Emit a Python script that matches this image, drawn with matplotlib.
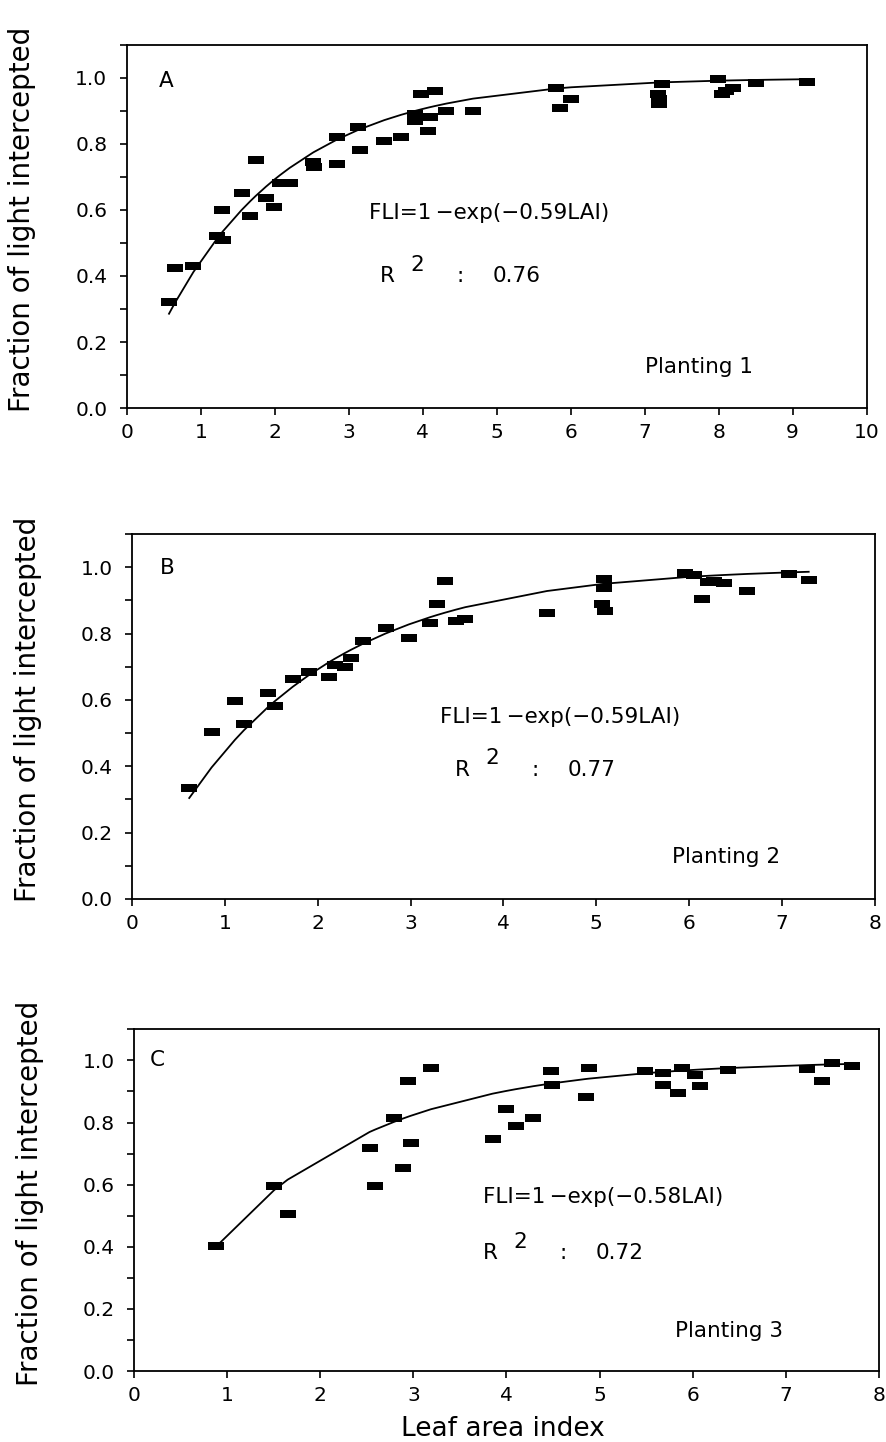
import numpy as np
import matplotlib
matplotlib.use("Agg")
import matplotlib.pyplot as plt
from matplotlib.path import Path
from matplotlib.ticker import MultipleLocator, FormatStrFormatter

# Planting 1
lai_a = [0.57, 0.65, 0.90, 1.22, 1.30, 1.29, 1.55, 1.67, 1.74, 1.88, 1.99, 2.07, 2.20,
         2.51, 2.53, 2.84, 2.84, 3.12, 3.15, 3.48, 3.71, 3.89, 3.89, 3.98, 4.10, 4.07,
         4.16, 4.32, 4.68, 5.80, 5.85, 6.01, 7.24, 7.18, 7.20, 7.20, 7.99, 8.04, 8.10,
         8.19, 8.51, 9.20]
fli_a = [0.32, 0.425, 0.43, 0.52, 0.51, 0.60, 0.65, 0.58, 0.75, 0.635, 0.61, 0.68, 0.68,
         0.745, 0.73, 0.74, 0.82, 0.85, 0.78, 0.81, 0.82, 0.89, 0.87, 0.95, 0.88, 0.84,
         0.96, 0.90, 0.90, 0.97, 0.907, 0.935, 0.98, 0.95, 0.935, 0.92, 0.995, 0.95, 0.96,
         0.97, 0.985, 0.988]

# Planting 2
lai_b = [0.615, 0.856, 1.108, 1.205, 1.46, 1.54, 1.73, 1.906, 2.12, 2.19, 2.29, 2.36,
         2.49, 2.73, 2.98, 3.21, 3.28, 3.37, 3.49, 3.59, 4.47, 5.08, 5.08, 5.06, 5.10,
         5.96, 6.05, 6.14, 6.20, 6.27, 6.375, 6.63, 7.08, 7.29]
fli_b = [0.336, 0.503, 0.598, 0.526, 0.622, 0.582, 0.663, 0.685, 0.668, 0.705, 0.698, 0.726,
         0.778, 0.816, 0.786, 0.832, 0.89, 0.96, 0.838, 0.845, 0.862, 0.964, 0.939, 0.889,
         0.869, 0.984, 0.978, 0.904, 0.957, 0.96, 0.952, 0.929, 0.981, 0.961]

# Planting 3
lai_c = [0.885, 1.505, 1.65, 2.53, 2.59, 2.79, 2.89, 2.94, 2.97, 3.19, 3.85, 3.99, 4.10,
         4.29, 4.48, 4.49, 4.85, 4.89, 5.485, 5.68, 5.68, 5.84, 5.88, 6.02, 6.08, 6.38,
         7.23, 7.39, 7.50, 7.71]
fli_c = [0.403, 0.595, 0.504, 0.717, 0.595, 0.813, 0.655, 0.932, 0.733, 0.976, 0.746, 0.845,
         0.788, 0.815, 0.965, 0.92, 0.881, 0.975, 0.965, 0.96, 0.922, 0.895, 0.975, 0.954,
         0.917, 0.97, 0.973, 0.933, 0.991, 0.981]

panel_letters = ["A", "B", "C"]
extinction = [0.59, 0.59, 0.58]
r_squared = ["0.76", "0.77", "0.72"]
x_max = [10, 8, 8]

# filled bar-shaped marker, wider than tall
bar_marker = Path([(-1, -0.5), (1, -0.5), (1, 0.5), (-1, 0.5), (-1, -0.5)],
                  [Path.MOVETO, Path.LINETO, Path.LINETO, Path.LINETO, Path.CLOSEPOLY])

plt.rcParams["font.family"] = "DejaVu Sans"

W, H = 887, 1442
fig = plt.figure(figsize=(W / 100, H / 100), dpi=100)
rects = [
    [0.143, 0.717, 0.834, 0.252],
    [0.149, 0.3766, 0.837, 0.253],
    [0.151, 0.0492, 0.840, 0.237],
]
# right edge of each rotated y label, in figure pixels
ylabel_px = [36, 42, 44]

# text placement per panel, in data units
letter_pos = [(0.43, 0.99), (0.30, 0.998), (0.17, 1.0)]
eq_pos = [(3.28, 0.59), (3.32, 0.548), (3.75, 0.56)]
r2_pos = [(3.42, 0.40), (3.48, 0.39), (3.75, 0.38)]
plant_pos = [(7.0, 0.125), (5.82, 0.127), (5.81, 0.13)]

data = [(lai_a, fli_a), (lai_b, fli_b), (lai_c, fli_c)]
txt = 15.5

for i, (lai, fli) in enumerate(data):
    ax = fig.add_axes(rects[i])
    lai = np.array(lai)
    fli = np.array(fli)

    ax.plot(lai, fli, linestyle="none", marker=bar_marker, markersize=12,
            color="black", markeredgewidth=0)

    # fitted curve FLI = 1 - exp(-k LAI) through the observed LAI values
    xs = np.unique(lai)
    ax.plot(xs, 1 - np.exp(-extinction[i] * xs), color="black", lw=1.3)

    ax.set_xlim(0, x_max[i])
    ax.set_ylim(0, 1.1)
    ax.xaxis.set_major_locator(MultipleLocator(1))
    ax.yaxis.set_major_locator(MultipleLocator(0.2))
    ax.yaxis.set_minor_locator(MultipleLocator(0.1))
    ax.yaxis.set_major_formatter(FormatStrFormatter("%.1f"))
    ax.tick_params(axis="both", which="both", direction="out", length=5,
                   width=1.2, labelsize=14.5)
    ax.tick_params(axis="y", which="major", pad=9)
    ax.tick_params(axis="x", which="major", pad=6)
    for sp in ax.spines.values():
        sp.set_linewidth(1.3)

    ax.set_ylabel("Fraction of light intercepted", fontsize=20)
    left, bottom, width, height = rects[i]
    ax.yaxis.set_label_coords((ylabel_px[i] / W - left) / width, 0.52)

    ax.text(*letter_pos[i], panel_letters[i], fontsize=txt, va="center", ha="left")
    ax.text(*eq_pos[i], f"FLI=1\u2009\u2212exp(\u2212{extinction[i]:.2f}LAI)",
            fontsize=txt, va="center", ha="left")
    rx, ry = r2_pos[i]
    ax.text(rx, ry, "R", fontsize=txt, va="center", ha="left")
    ax.annotate("2", (rx, ry), xytext=(22, 8), textcoords="offset points",
                fontsize=txt, va="center", ha="left")
    ax.annotate(":", (rx, ry), xytext=(55, 0), textcoords="offset points",
                fontsize=txt, va="center", ha="left")
    ax.annotate(r_squared[i], (rx, ry), xytext=(81, 0), textcoords="offset points",
                fontsize=txt, va="center", ha="left")
    ax.text(*plant_pos[i], f"Planting {i + 1}", fontsize=txt, va="center", ha="left")

    if i == 2:
        ax.set_xlabel("Leaf area index", fontsize=19)
        ax.xaxis.label.set_va("baseline")
        ax.xaxis.set_label_coords((503 / W - left) / width, (1436 - 1371) / -342)

fig.savefig("out.png", dpi=100)
